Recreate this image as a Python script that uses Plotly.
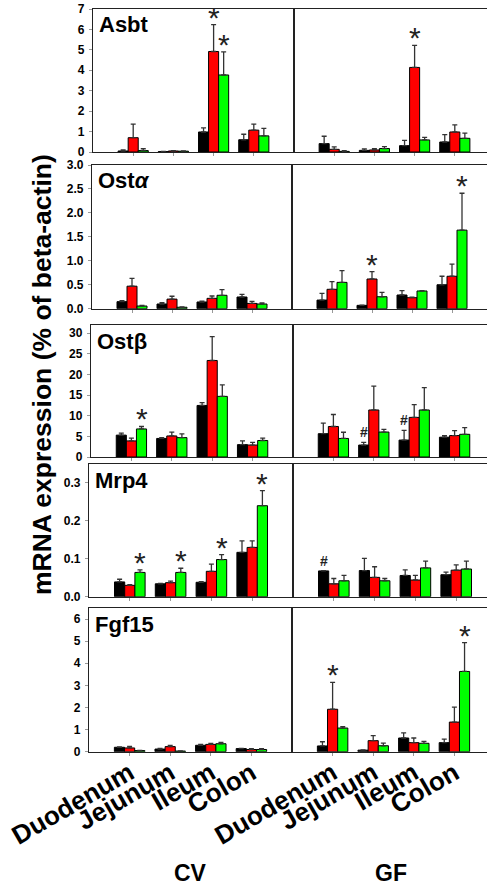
import numpy as np
import plotly.graph_objects as go

W, H = 487, 888

# ---------------- data ----------------
categories = ["Duodenum", "Jejunum", "Ileum", "Colon"]
conditions = ["CV", "GF"]
genes = ["Asbt", "Ost<i>α</i>", "Ostβ", "Mrp4", "Fgf15"]
series_colors = ["#000000", "#ff0000", "#00ff00"]

# each: [black, red, green] x [Duodenum, Jejunum, Ileum, Colon]
asbt_cv_mean = [[0.05, 0.02, 0.98, 0.60], [0.70, 0.05, 4.92, 1.07], [0.07, 0.04, 3.77, 0.79]]
asbt_cv_err = [[0.05, 0.01, 0.20, 0.27], [0.66, 0.02, 1.32, 0.29], [0.09, 0.01, 1.13, 0.37]]
asbt_gf_mean = [[0.41, 0.08, 0.31, 0.49], [0.13, 0.10, 4.14, 0.98], [0.03, 0.17, 0.59, 0.67]]
asbt_gf_err = [[0.36, 0.07, 0.26, 0.36], [0.12, 0.07, 1.08, 0.35], [0.03, 0.09, 0.13, 0.25]]
asbt_cv_marks = [("*", 1, 2), ("*", 2, 2)]
asbt_gf_marks = [("*", 1, 2)]

osta_cv_mean = [[0.147, 0.098, 0.14, 0.244], [0.47, 0.20, 0.216, 0.11], [0.056, 0.03, 0.28, 0.098]]
osta_cv_err = [[0.023, 0.027, 0.02, 0.056], [0.165, 0.06, 0.049, 0.043], [0.014, 0.01, 0.12, 0.022]]
osta_gf_mean = [[0.18, 0.07, 0.286, 0.50], [0.405, 0.62, 0.23, 0.677], [0.55, 0.25, 0.37, 1.64]]
osta_gf_err = [[0.14, 0.005, 0.091, 0.177], [0.16, 0.155, 0.01, 0.253], [0.245, 0.09, 0.005, 0.77]]
osta_cv_marks = []
osta_gf_marks = [("*", 1, 1), ("*", 2, 3)]

ostb_cv_mean = [[5.3, 4.5, 12.5, 3.0], [3.9, 5.1, 23.4, 2.9], [6.8, 4.7, 14.7, 4.0]]
ostb_cv_err = [[0.5, 0.2, 0.7, 0.9], [0.7, 0.95, 5.8, 0.65], [0.6, 0.9, 2.8, 0.6]]
ostb_gf_mean = [[5.65, 2.9, 4.1, 4.8], [7.4, 11.4, 9.6, 5.2], [4.5, 6.05, 11.4, 5.5]]
ostb_gf_err = [[2.55, 0.65, 2.35, 0.4], [2.9, 5.8, 3.1, 1.2], [1.5, 0.65, 5.4, 1.6]]
ostb_cv_marks = [("*", 2, 0)]
ostb_gf_marks = [("#", 0, 1), ("#", 0, 2)]

mrp4_cv_mean = [[0.039, 0.034, 0.038, 0.117], [0.030, 0.037, 0.067, 0.130], [0.064, 0.064, 0.098, 0.240]]
mrp4_cv_err = [[0.007, 0.001, 0.002, 0.030], [0.002, 0.004, 0.019, 0.017], [0.007, 0.011, 0.013, 0.040]]
mrp4_gf_mean = [[0.068, 0.069, 0.056, 0.058], [0.034, 0.051, 0.044, 0.070], [0.042, 0.042, 0.076, 0.073]]
mrp4_gf_err = [[0.001, 0.032, 0.015, 0.007], [0.014, 0.028, 0.012, 0.014], [0.014, 0.006, 0.018, 0.021]]
mrp4_cv_marks = [("*", 2, 0), ("*", 2, 1), ("*", 2, 2), ("*", 2, 3)]
mrp4_gf_marks = [("#", 0, 0)]

fgf15_cv_mean = [[0.20, 0.12, 0.29, 0.14], [0.17, 0.23, 0.33, 0.10], [0.05, 0.03, 0.36, 0.10]]
fgf15_cv_err = [[0.02, 0.03, 0.04, 0.01], [0.07, 0.06, 0.05, 0.04], [0.01, 0.01, 0.06, 0.04]]
fgf15_gf_mean = [[0.26, 0.07, 0.62, 0.41], [1.92, 0.50, 0.41, 1.34], [1.07, 0.27, 0.38, 3.63]]
fgf15_gf_err = [[0.19, 0.01, 0.23, 0.16], [1.22, 0.23, 0.21, 0.68], [0.06, 0.12, 0.09, 1.30]]
fgf15_cv_marks = []
fgf15_gf_marks = [("*", 1, 0), ("*", 2, 3)]

asbt_ticks = [0, 1, 2, 3, 4, 5, 6, 7]
osta_ticks = [0.0, 0.5, 1.0, 1.5, 2.0, 2.5, 3.0]
ostb_ticks = [0, 5, 10, 15, 20, 25, 30]
mrp4_ticks = [0.0, 0.1, 0.2, 0.3]
fgf15_ticks = [0, 1, 2, 3, 4, 5, 6]

gene_data = [
    (asbt_cv_mean, asbt_cv_err, asbt_cv_marks, asbt_gf_mean, asbt_gf_err, asbt_gf_marks, asbt_ticks, "d"),
    (osta_cv_mean, osta_cv_err, osta_cv_marks, osta_gf_mean, osta_gf_err, osta_gf_marks, osta_ticks, ".1f"),
    (ostb_cv_mean, ostb_cv_err, ostb_cv_marks, ostb_gf_mean, ostb_gf_err, ostb_gf_marks, ostb_ticks, "d"),
    (mrp4_cv_mean, mrp4_cv_err, mrp4_cv_marks, mrp4_gf_mean, mrp4_gf_err, mrp4_gf_marks, mrp4_ticks, ".1f"),
    (fgf15_cv_mean, fgf15_cv_err, fgf15_cv_marks, fgf15_gf_mean, fgf15_gf_err, fgf15_gf_marks, fgf15_ticks, "d"),
]

# ---------------- layout geometry (pixels) ----------------
row_px = [(93, 294, 9, 152), (92, 292, 165, 308.7), (91, 293, 325, 457),
          (89, 293, 464, 596.7), (89, 292, 608, 751.7)]
y_tops = [7, 3.0, 32, 0.35, 6.5]

FONT = "Liberation Sans, Arial, sans-serif"
LINE = "#222222"
cat_pos = np.arange(1, len(categories) + 1)
offsets = [-0.25, 0.0, 0.25]

fig = go.Figure()
layout = dict(
    template="none",
    width=W, height=H, margin=dict(l=0, r=0, t=0, b=0, autoexpand=False),
    paper_bgcolor="white", plot_bgcolor="white",
    barmode="group", bargap=0.25, bargroupgap=0,
    showlegend=False, font=dict(family=FONT, color="black"),
)
annotations = []

for r, (cvm, cve, cvk, gfm, gfe, gfk, ticks, fmt) in enumerate(gene_data):
    left, div, top, bottom = row_px[r]
    unit = (div - left) / 5.0
    ydom = [1 - bottom / H, 1 - top / H]
    for c, (means, errs, marks) in enumerate([(cvm, cve, cvk), (gfm, gfe, gfk)]):
        k = 2 * r + c
        sfx = "" if k == 0 else str(k + 1)
        xa, ya = "x" + sfx, "y" + sfx
        if c == 0:
            xdom = [left / W, div / W]
            xr = [0, 5]
        else:
            xdom = [div / W, 1.0]
            xr = [0, (W - div) / unit]
        bottom_row = (r == len(gene_data) - 1)
        layout["xaxis" + sfx] = dict(
            domain=xdom, range=xr, anchor=ya, showgrid=False, zeroline=False,
            automargin=False,
            showline=True, mirror=True, linecolor=LINE, linewidth=1.3,
            tickvals=list(cat_pos), ticktext=categories,
            ticks="outside", ticklen=3, tickcolor="#999999",
            showticklabels=bottom_row, tickangle=-30, ticklabelstandoff=-8,
            tickfont=dict(family=FONT, size=26, color="black", weight="bold"),
        )
        layout["yaxis" + sfx] = dict(
            domain=ydom, range=[0, y_tops[r]], anchor=xa, showgrid=False, zeroline=False,
            automargin=False,
            showline=True, mirror=(c == 0), linecolor=LINE, linewidth=1.3,
            tickvals=ticks if c == 0 else [], tickformat=fmt,
            ticks="outside" if c == 0 else "", ticklen=3, tickcolor="#999999",
            showticklabels=(c == 0), ticklabelstandoff=2,
            tickfont=dict(family=FONT, size=12, color="black", weight="bold"),
        )
        for s in range(3):
            fig.add_trace(go.Bar(
                x=cat_pos, y=means[s], xaxis=xa, yaxis=ya, offsetgroup=str(s),
                marker=dict(color=series_colors[s], line=dict(color="#000000", width=1)),
                error_y=dict(type="data", array=errs[s], arrayminus=[0] * len(errs[s]),
                             symmetric=False, color="#333333", thickness=1.3, width=2.5),
                showlegend=False,
            ))
        for sym, s, ci in marks:
            star = sym == "*"
            annotations.append(dict(
                x=cat_pos[ci] + offsets[s], y=means[s][ci] + errs[s][ci],
                xref=xa, yref=ya, text=sym, showarrow=False,
                xanchor="center", yanchor="bottom",
                yshift=-11 if star else 0,
                font=dict(family=FONT, size=30 if star else 14, color="#222222",
                          weight="normal" if star else "bold"),
            ))
    # gene label
    annotations.append(dict(
        x=(left + 4) / W, y=1 - (top + 16) / H, xref="paper", yref="paper",
        text=genes[r], showarrow=False, xanchor="left", yanchor="middle",
        font=dict(family=FONT, size=22, color="black", weight="bold"),
    ))

annotations.append(dict(
    x=42 / W, y=1 - 375 / H, xref="paper", yref="paper",
    text="mRNA expression (% of beta-actin)", textangle=-90, showarrow=False,
    xanchor="center", yanchor="middle",
    font=dict(family=FONT, size=26.5, color="black", weight="bold"),
))
for lab, px in [("CV", 190), ("GF", 391)]:
    annotations.append(dict(
        x=px / W, y=1 - 873 / H, xref="paper", yref="paper", text=lab,
        showarrow=False, xanchor="center", yanchor="middle",
        font=dict(family=FONT, size=23, color="black", weight="bold"),
    ))

layout["annotations"] = annotations
fig.update_layout(**layout)
fig.write_html("out.html")
